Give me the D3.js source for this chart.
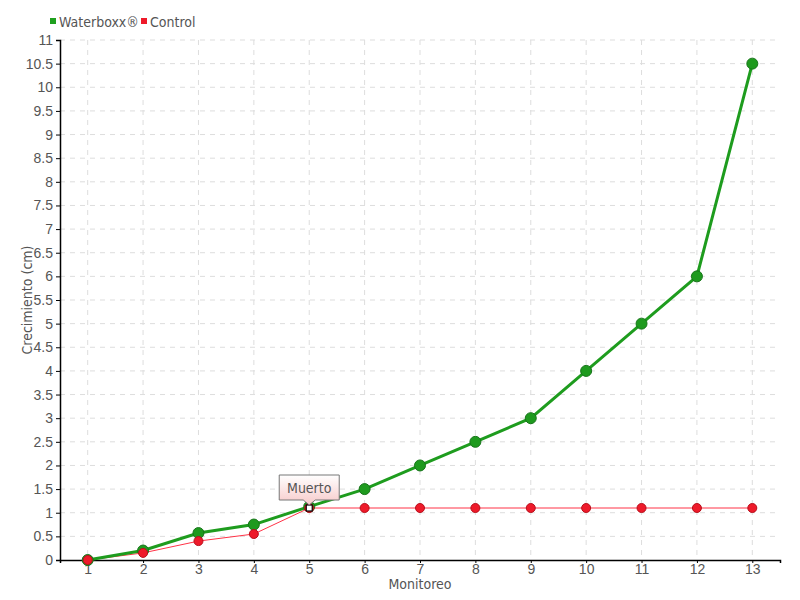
<!DOCTYPE html>
<html>
<head>
<meta charset="utf-8">
<script src="https://cdn.jsdelivr.net/npm/d3@7"></script>
<style>
  body { margin: 0; background: #fff; }
  svg { display: block; font-family: "DejaVu Sans Condensed", "DejaVu Sans", sans-serif; font-stretch: condensed; }
  .tick text { fill: #555; font-size: 14px; }
  .grid line { stroke: #ddd; stroke-dasharray: 5,5; }
</style>
</head>
<body>
<svg id="chart" width="800" height="600"></svg>
<script>
// monitoring rounds
var rounds = [1, 2, 3, 4, 5, 6, 7, 8, 9, 10, 11, 12, 13];
// growth in cm
var waterboxx = [0, 0.2, 0.57, 0.75, 1.13, 1.5, 2.0, 2.5, 3.0, 4.0, 5.0, 6.0, 10.5];
var control = [0, 0.15, 0.4, 0.55, 1.1, 1.1, 1.1, 1.1, 1.1, 1.1, 1.1, 1.1, 1.1];
var yTicks = [0, 0.5, 1, 1.5, 2, 2.5, 3, 3.5, 4, 4.5, 5, 5.5, 6, 6.5, 7, 7.5, 8, 8.5, 9, 9.5, 10, 10.5, 11];
var deadIndex = 4; // "Muerto" point on the control series

var margin = { top: 40, right: 20, bottom: 40, left: 60 },
    width = 800 - margin.left - margin.right,
    height = 600 - margin.top - margin.bottom;

var svg = d3.select("#chart");
var g = svg.append("g")
    .attr("transform", "translate(" + margin.left + "," + margin.top + ")");

var x = d3.scaleLinear().domain([0.5, 13.5]).range([0, width]);
var y = d3.scaleLinear().domain([0, 11]).range([height, 0]);

// grid lines
g.append("g").attr("class", "grid")
    .selectAll("line").data(rounds).join("line")
    .attr("x1", function (d) { return x(d); })
    .attr("x2", function (d) { return x(d); })
    .attr("y1", 0).attr("y2", height);

g.append("g").attr("class", "grid")
    .selectAll("line").data(yTicks.slice(1)).join("line")
    .attr("x1", 0).attr("x2", width)
    .attr("y1", function (d) { return y(d); })
    .attr("y2", function (d) { return y(d); });

// axes
var xAxis = g.append("g")
    .attr("transform", "translate(0," + height + ")")
    .call(d3.axisBottom(x).tickValues(rounds).tickFormat(d3.format("d")).tickSize(3).tickPadding(1));
xAxis.select(".domain").attr("stroke", "#000").attr("stroke-width", 1.5);

var yAxis = g.append("g")
    .call(d3.axisLeft(y).tickValues(yTicks).tickFormat(function (d) { return d; }).tickSize(4).tickPadding(3));
yAxis.select(".domain").attr("stroke", "#000").attr("stroke-width", 1.5);

// axis titles
svg.append("text")
    .attr("x", margin.left + width / 2)
    .attr("y", 589)
    .attr("text-anchor", "middle")
    .attr("fill", "#555")
    .style("font-size", "14px")
    .text("Monitoreo");

svg.append("text")
    .attr("transform", "translate(32," + (margin.top + height / 2) + ") rotate(-90)")
    .attr("text-anchor", "middle")
    .attr("fill", "#555")
    .style("font-size", "14px")
    .text("Crecimiento (cm)");

var line = d3.line()
    .x(function (d, i) { return x(rounds[i]); })
    .y(function (d) { return y(d); });

// control series
g.append("path")
    .datum(control)
    .attr("fill", "none")
    .attr("stroke", "#ff3347")
    .attr("stroke-width", 1)
    .attr("d", line);

// waterboxx series
g.append("path")
    .datum(waterboxx)
    .attr("fill", "none")
    .attr("stroke", "#1e9c1e")
    .attr("stroke-width", 3)
    .attr("d", line);

g.append("g").selectAll("circle").data(waterboxx).join("circle")
    .attr("cx", function (d, i) { return x(rounds[i]); })
    .attr("cy", function (d) { return y(d); })
    .attr("r", 5.5)
    .attr("fill", "#1e9a1e")
    .attr("stroke", "#17751a")
    .attr("stroke-width", 1);

g.append("g").selectAll("circle").data(control).join("circle")
    .attr("cx", function (d, i) { return x(rounds[i]); })
    .attr("cy", function (d) { return y(d); })
    .attr("r", 4.5)
    .attr("fill", "#ee1a2a")
    .attr("stroke", "#b8101c")
    .attr("stroke-width", 1);

// dead marker
var dx = x(rounds[deadIndex]), dy = y(control[deadIndex]);
g.append("rect")
    .attr("x", dx - 3).attr("y", dy - 3)
    .attr("width", 6).attr("height", 6)
    .attr("fill", "#fff")
    .attr("stroke", "#000")
    .attr("stroke-width", 1.2);

// tooltip "Muerto"
var defs = svg.append("defs");
var grad = defs.append("linearGradient").attr("id", "tipGrad")
    .attr("x1", 0).attr("y1", 0).attr("x2", 0).attr("y2", 1);
grad.append("stop").attr("offset", "0%").attr("stop-color", "#ffffff");
grad.append("stop").attr("offset", "100%").attr("stop-color", "#f7c9c9");

var tipW = 60, tipH = 25, tipBottom = dy - 8;
var tip = g.append("g");
tip.append("path")
    .attr("d", "M" + (dx - tipW / 2) + "," + (tipBottom - tipH) +
        " h" + tipW + " v" + tipH + " H" + (dx + 6) +
        " L" + dx + "," + (tipBottom + 5) + " L" + (dx - 6) + "," + tipBottom +
        " H" + (dx - tipW / 2) + " Z")
    .attr("fill", "url(#tipGrad)")
    .attr("stroke", "#777")
    .attr("stroke-width", 1);
tip.append("text")
    .attr("x", dx)
    .attr("y", tipBottom - tipH / 2 + 5)
    .attr("text-anchor", "middle")
    .attr("fill", "#555")
    .style("font-size", "14px")
    .text("Muerto");

// legend
var legend = [
    { name: "Waterboxx\u00AE", color: "#1fa01f", x: 50 },
    { name: "Control", color: "#ee1a2a", x: 141 }
];
var lg = svg.append("g").selectAll("g").data(legend).join("g")
    .attr("transform", function (d) { return "translate(" + d.x + ",22)"; });
lg.append("rect")
    .attr("x", 0).attr("y", -4)
    .attr("width", 6).attr("height", 6)
    .attr("fill", function (d) { return d.color; });
lg.append("text")
    .attr("x", 9).attr("y", 5)
    .attr("fill", "#555")
    .style("font-size", "14px")
    .text(function (d) { return d.name; });
</script>
</body>
</html>
